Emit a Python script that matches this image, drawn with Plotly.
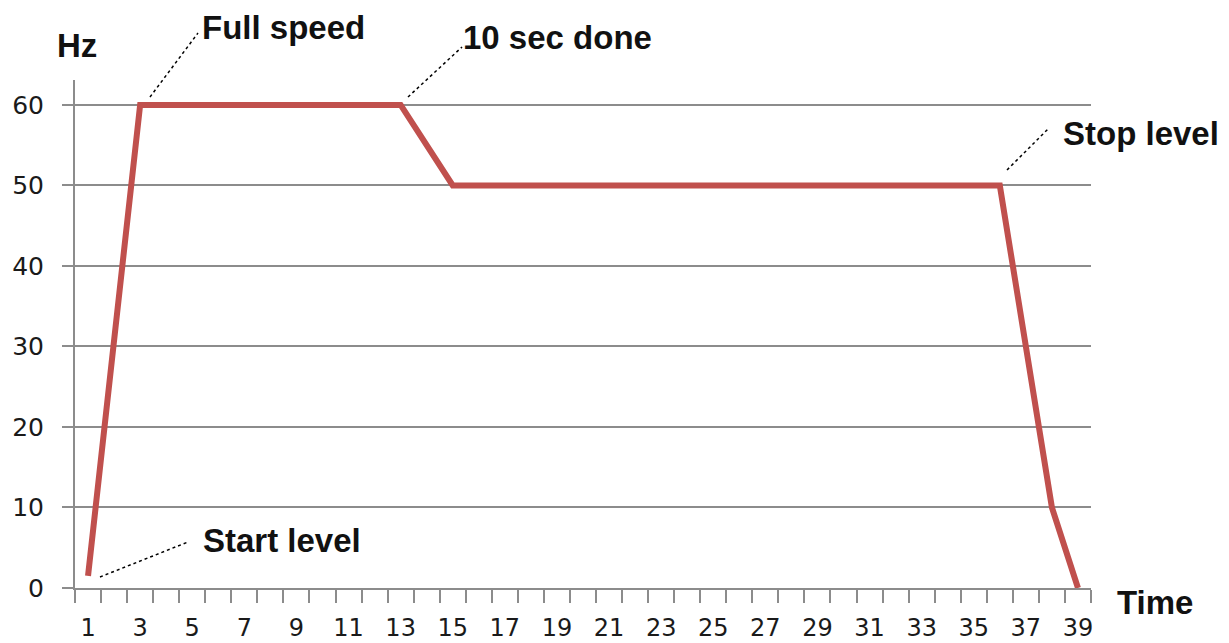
import plotly.graph_objects as go

# Data (time in seconds, frequency in Hz)
time_s = [1, 3, 13, 15, 36, 38, 39]
hz = [1.5, 60, 60, 50, 50, 10, 0]

x_tick_vals = list(range(1, 40, 2))
x_tick_text = [str(v) for v in x_tick_vals]
y_tick_vals = [0, 10, 20, 30, 40, 50, 60]

labels = ["Full speed", "10 sec done", "Stop level", "Start level", "Hz", "Time"]

# plot area in pixels: left 75, right 1091, top 80, bottom 588
L, R, T, B = 75, 1091, 80, 588
XMIN, XMAX = 0.5, 39.5
YMAX = 63.1
def px(p):
    return (p - L) / (R - L)
def py(p):
    return (B - p) / (B - T)

fig = go.Figure()
fig.add_trace(go.Scatter(x=time_s, y=hz, mode="lines",
                         line=dict(color="#C0504D", width=6),
                         hoverinfo="skip", showlegend=False))

# leader lines (pixel endpoints) and label centres
leaders = [((150, 97), (198, 33)),
           ((408, 97), (462, 47)),
           ((1007, 170), (1048, 129)),
           ((100, 577), (188, 542))]
centres = [(283, 28), (557, 38), (1141, 133), (282, 540), (77, 46), (1155, 602)]

for (p0, p1) in leaders:
    fig.add_shape(type="line", xref="paper", yref="paper",
                  x0=px(p0[0]), y0=py(p0[1]), x1=px(p1[0]), y1=py(p1[1]),
                  line=dict(color="black", width=1.5, dash="dot"))

bold_font = dict(family="Liberation Sans, Arial, sans-serif", size=33, color="#111111")
for text, (cx, cy) in zip(labels, centres):
    fig.add_annotation(x=px(cx), y=py(cy), xref="paper", yref="paper",
                       text="<b>%s</b>" % text, showarrow=False, font=bold_font,
                       xanchor="center", yanchor="middle")

grey = "#8c8c8c"
tick_font = dict(family="DejaVu Sans, Verdana, sans-serif", size=24, color="#1a1a1a")

fig.update_layout(
    template="none",
    width=1229, height=643,
    margin=dict(l=L, r=1229 - R, t=T, b=643 - B, autoexpand=False),
    paper_bgcolor="white", plot_bgcolor="white",
    xaxis=dict(range=[XMIN, XMAX], tickmode="array", tickvals=x_tick_vals,
               ticktext=x_tick_text, ticks="", showgrid=False, zeroline=False,
               automargin=False,
               showline=True, linecolor=grey, linewidth=2,
               tickfont=tick_font, ticklabelstandoff=17,
               minor=dict(tick0=0.5, dtick=1, ticks="outside", ticklen=13,
                          tickcolor=grey, tickwidth=2, showgrid=False)),
    yaxis=dict(range=[0, YMAX], tickmode="array", tickvals=y_tick_vals,
               ticks="outside", ticklen=11, tickcolor=grey, tickwidth=2,
               showgrid=True, gridcolor=grey, gridwidth=1.5, zeroline=False,
               automargin=False,
               showline=True, linecolor=grey, linewidth=2,
               tickfont=dict(family="DejaVu Sans, Verdana, sans-serif", size=25,
                             color="#1a1a1a"),
               ticklabelstandoff=13),
)

fig.write_html("out.html", config={"displayModeBar": False},
               post_script="document.body.style.margin='0';")
